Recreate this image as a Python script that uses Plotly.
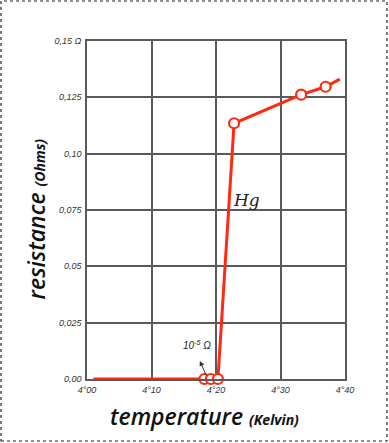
import plotly.graph_objects as go

# Data
temp_line = [4.010, 4.182, 4.192, 4.203, 4.228, 4.332, 4.370, 4.392]
res_line = [0.0, 0.0, 0.0, 0.0, 0.1135, 0.1262, 0.1297, 0.1331]
temp_pts = [4.182, 4.192, 4.203, 4.228, 4.332, 4.370]
res_pts = [0.0, 0.0, 0.0, 0.1135, 0.1262, 0.1297]

x_tickvals = [4.00, 4.10, 4.20, 4.30, 4.40]
x_ticktext = ["4°00", "4°10", "4°20", "4°30", "4°40"]
y_tickvals = [0.0, 0.025, 0.05, 0.075, 0.10, 0.125, 0.15]
y_ticktext = ["0,00", "0,025", "0,05", "0,075", "0,10", "0,125", "0,15 Ω"]

RED = "#ff2a10"
GRID = "#5a5a5a"

fig = go.Figure()
fig.add_trace(go.Scatter(x=temp_line, y=res_line, mode="lines",
                         line=dict(color=RED, width=3), hoverinfo="skip",
                         showlegend=False))
fig.add_trace(go.Scatter(x=temp_pts, y=res_pts, mode="markers",
                         marker=dict(symbol="circle", size=10, color="white",
                                     line=dict(color=RED, width=2.2)),
                         showlegend=False, cliponaxis=False))

tickfont = dict(family="Liberation Sans", size=9, color="#333", style="italic")

fig.update_xaxes(range=[4.0, 4.4], tickvals=x_tickvals, ticktext=x_ticktext,
                 showgrid=True, gridcolor=GRID, gridwidth=1.5,
                 showline=True, linecolor=GRID, linewidth=1.5, mirror=True,
                 zeroline=False, ticks="", tickfont=tickfont, ticklabelstandoff=1)
fig.update_yaxes(range=[0, 0.15], tickvals=y_tickvals, ticktext=y_ticktext,
                 showgrid=True, gridcolor=GRID, gridwidth=1.5,
                 showline=True, linecolor=GRID, linewidth=1.5, mirror=True,
                 zeroline=False, ticks="", tickfont=tickfont, ticklabelstandoff=2)

title_font = dict(family="Open Sans", size=23, color="#111", style="italic", weight=600)
annotations = [
    dict(x=4.248, y=0.0794, xref="x", yref="y", text="Hg", showarrow=False,
         font=dict(family="DejaVu Serif", size=17, color="#222", style="italic")),
    dict(x=4.1705, y=0.0151, xref="x", yref="y", text="10<sup>-5</sup> Ω", showarrow=False,
         font=dict(family="Liberation Sans", size=10, color="#222", style="italic")),
    dict(x=4.175, y=0.008, xref="x", yref="y", ax=4.186, ay=0.0009,
         axref="x", ayref="y", text="", showarrow=True, arrowhead=2,
         arrowsize=1, arrowwidth=1, arrowcolor="#333"),
    dict(x=0.457, y=-0.1095, xref="paper", yref="paper", showarrow=False,
         xanchor="center", yanchor="middle",
         text="temperature <span style='font-size:14px'><b>(Kelvin)</b></span>",
         font=title_font),
    dict(x=-0.194, y=0.475, xref="paper", yref="paper", showarrow=False, textangle=-90,
         xanchor="center", yanchor="middle",
         text="resistance <span style='font-size:14px'><b>(Ohms)</b></span>",
         font=title_font),
]

shapes = [
    dict(type="rect", xref="paper", yref="paper", x0=-0.3333, x1=1.1628,
         y0=-0.1834, y1=1.1183, line=dict(color="#222", width=1.2, dash="dot"),
         layer="below"),
]

fig.update_layout(width=389, height=443,
                  margin=dict(l=87, r=44, t=41, b=64),
                  paper_bgcolor="white", plot_bgcolor="white",
                  annotations=annotations, shapes=shapes, showlegend=False)

fig.write_html("out.html", config={"displayModeBar": False},
               post_script="document.body.style.margin='0';document.body.style.overflow='hidden';")
